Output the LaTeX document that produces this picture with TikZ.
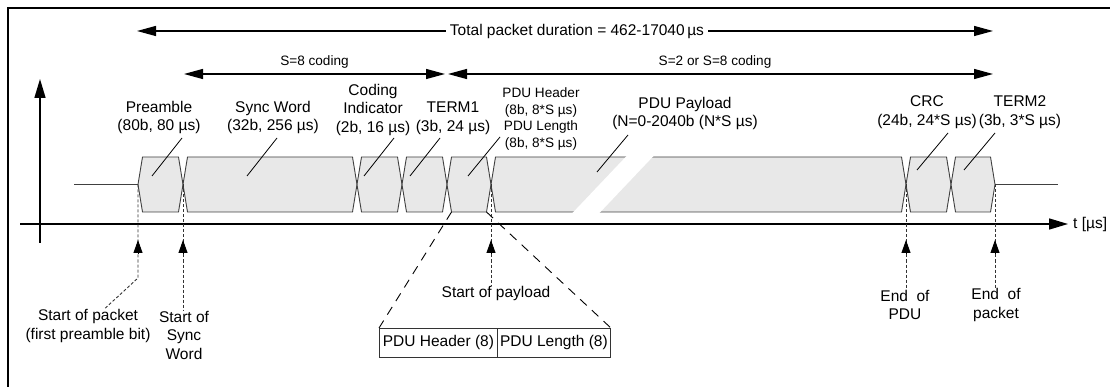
\documentclass[tikz,border=0pt]{standalone}
\usepackage{fontspec}
\setmainfont{Liberation Sans}
\usetikzlibrary{arrows.meta,calc,positioning}

\tikzset{
  txt/.style={font=\fontsize{15.5}{18.5}\selectfont, align=center, inner sep=0pt},
  stxt/.style={font=\fontsize{13.6}{16.7}\selectfont, align=center, inner sep=0pt},
  blk/.style={draw=black!75, fill=black!9, line width=0.9pt, line join=miter},
  idle/.style={draw=black!75, line width=1pt},
  lead/.style={draw=black, line width=0.8pt},
  dimline/.style={line width=1.3pt, {Triangle[length=19pt,width=10pt]}-{Triangle[length=19pt,width=10pt]}},
  axis/.style={line width=1.5pt, -{Triangle[length=19pt,width=11pt]}},
  mkline/.style={draw=black!80, line width=0.9pt, dash pattern=on 3pt off 2pt},
  mktip/.style={line width=0.9pt, -{Triangle[length=13pt,width=9pt]}},
  zoomline/.style={draw=black, line width=0.9pt, dash pattern=on 9pt off 7pt},
  fieldbox/.style={draw=black!80, line width=0.9pt, minimum height=29pt, inner sep=0pt,
    font=\fontsize{15.5}{18.5}\selectfont}
}

\begin{document}
\begin{tikzpicture}[x=1pt,y=-1pt]
  \useasboundingbox (0,0) rectangle (1110,387);
  % frame
  \draw[line width=2pt] (7.5,8) rectangle (1130,400);

  % duration arrows
  \coordinate (tot-l) at (137,31);  \coordinate (tot-r) at (993,31);
  \coordinate (s8-l) at (184,74);   \coordinate (s8-r) at (445,74);
  \coordinate (s2-l) at (448,74);   \coordinate (s2-r) at (993,74);
  \draw[dimline] (tot-l) -- (tot-r)
    node[txt, pos=0.514, fill=white, inner xsep=4pt, inner ysep=2pt] (tot) {Total packet duration = 462-17040\,µs};
  \draw[dimline] (s8-l) -- (s8-r) node[stxt, midway, above=5pt] (s8) {S=8 coding};
  \draw[dimline] (s2-l) -- (s2-r) node[stxt, pos=0.49, above=5pt] (s2) {S=2 or S=8 coding};

  % axes
  \coordinate (y0) at (40,243); \coordinate (y1) at (40,79);
  \coordinate (t0) at (20,224); \coordinate (t1) at (1068,224);
  \draw[axis] (y0) -- (y1);
  \draw[axis] (t0) -- (t1);
  \node[txt, right=5pt of t1] (tlbl) {t [µs]};

  % bit fields
  \foreach \n/\x in {0/138,1/183,2/357,3/402,4/447,5/491,6/906,7/951,8/995}
    \coordinate (c\n) at (\x,184.5);
  \coordinate (idle-l) at (74,184.5); \coordinate (idle-r) at (1058,184.5);
  \draw[idle] (idle-l) -- (c0);
  \draw[idle] (c8) -- (idle-r);
  \foreach \a/\b in {0/1,1/2,2/3,3/4,4/5,5/6,6/7,7/8}
    \draw[blk] (c\a) -- ++(4.5,-27.5) -- ($(c\b)+(-4.5,-27.5)$) -- (c\b)
      -- ++(-4.5,27.5) -- ($(c\a)+(4.5,27.5)$) -- cycle;
  % break in the payload
  \fill[white] (572,213.5) -- (627,155.5) -- (654,155.5) -- (599,213.5) -- cycle;

  % field labels
  \node[txt] (pre) at (159,117.5) {Preamble\\(80b, 80 µs)};
  \node[txt] (sync) at (273,117.5) {Sync Word\\(32b, 256 µs)};
  \node[txt] (ci) at (373,109.5) {Coding\\Indicator\\(2b, 16 µs)};
  \node[txt] (term1) at (453,118.5) {TERM1\\(3b, 24 µs)};
  \node[stxt] (hdr) at (541,119) {PDU Header\\(8b, 8*S µs)\\PDU Length\\(8b, 8*S µs)};
  \node[txt] (pay) at (685,113.5) {PDU Payload\\(N=0-2040b (N*S µs)};
  \node[txt] (crc) at (927,112) {CRC\\(24b, 24*S µs)};
  \node[txt] (term2) at (1020,112) {TERM2\\(3b, 3*S µs)};

  \coordinate (pre-in) at (152,176);
  \coordinate (sync-in) at (247,176);
  \coordinate (ci-in) at (364,176);
  \coordinate (term1-in) at (410,176);
  \coordinate (hdr-in) at (468,176);
  \coordinate (pay-in) at (597,172);
  \coordinate (crc-in) at (917,170);
  \coordinate (term2-in) at (964,170);
  \draw[lead] (pre-in) -- ++(30,-38);
  \draw[lead] (sync-in) -- ++(30,-38);
  \draw[lead] (ci-in) -- ++(30,-38);
  \draw[lead] (term1-in) -- ++(30,-38);
  \draw[lead] (hdr-in) -- ++(32,-39);
  \draw[lead] (pay-in) -- ++(31,-37);
  \draw[lead] (crc-in) -- ++(31,-37);
  \draw[lead] (term2-in) -- ++(31,-37);

  % time markers
  \coordinate (tip) at (0,240);
  \coordinate (base) at (0,254);
  \node[txt] (sop) at (88,326) {Start of packet\\(first preamble bit)};
  \node[txt] (sow) at (184,335) {Start of\\Sync\\Word};
  \node[txt] (spl) at (496,293) {Start of payload};
  \node[txt] (eop) at (905,305) {End\ \ of\\PDU};
  \node[txt] (epk) at (996,305) {End\ \ of\\packet};

  \draw[mkline] (c0) -- (c0 |- 0,278) -- ([xshift=16pt]sop.north);
  \draw[mkline] (c1) -- (sow.north -| c1);
  \draw[mkline] (c5) -- (spl.north -| c5);
  \draw[mkline] (c6) -- (eop.north -| c6);
  \draw[mkline] (c8) -- (epk.north -| c8);
  \foreach \n in {0,1,5,6,8}
    \draw[mktip] (c\n |- base) -- (c\n |- tip);

  % header fields
  \node[fieldbox, minimum width=118pt, anchor=north west] (pdh) at (379,328) {PDU Header (8)};
  \node[fieldbox, minimum width=113pt, right=-0.9pt of pdh] (pdl) {PDU Length (8)};
  \draw[zoomline] ($(c4)+(4.5,27.5)$) -- (pdh.north west);
  \draw[zoomline] ($(c5)+(-4.5,27.5)$) -- (pdl.north east);
\end{tikzpicture}
\end{document}
